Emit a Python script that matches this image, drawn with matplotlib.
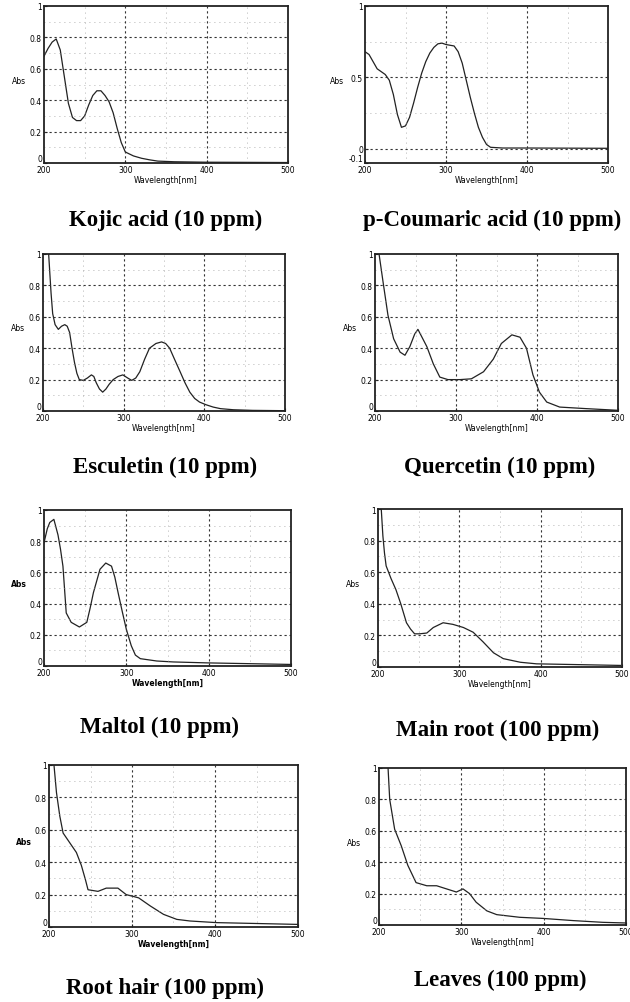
import matplotlib.pyplot as plt
import numpy as np

# spectra: wavelength (nm), absorbance
kojic_wl = [200, 205, 210, 215, 220, 225, 230, 235, 240, 245, 250, 255, 260, 265, 270, 275, 280,
            285, 290, 295, 300, 310, 320, 330, 340, 360, 400, 450, 500]
kojic_abs = [0.68, 0.73, 0.77, 0.79, 0.72, 0.55, 0.38, 0.29, 0.27, 0.27, 0.30, 0.37, 0.43, 0.46,
             0.46, 0.43, 0.39, 0.32, 0.22, 0.13, 0.07, 0.045, 0.03, 0.02, 0.012, 0.008, 0.005, 0.004, 0.003]

coumaric_wl = [200, 205, 210, 215, 220, 225, 230, 235, 240, 245, 250, 255, 260, 265, 270, 275, 280,
               285, 290, 295, 300, 305, 310, 315, 320, 325, 330, 335, 340, 345, 350, 355, 370, 400, 500]
coumaric_abs = [0.68, 0.66, 0.61, 0.56, 0.54, 0.52, 0.48, 0.38, 0.24, 0.15, 0.16, 0.22, 0.32, 0.43,
                0.53, 0.61, 0.67, 0.71, 0.735, 0.74, 0.73, 0.725, 0.72, 0.68, 0.60, 0.48, 0.36, 0.25,
                0.15, 0.08, 0.03, 0.01, 0.005, 0.005, 0.003]

esculetin_wl = [200, 204, 207, 210, 212, 215, 219, 223, 227, 230, 233, 236, 239, 242, 245, 250, 255,
                260, 263, 266, 270, 274, 278, 282, 287, 293, 299, 305, 310, 315, 320, 326, 332, 340,
                347, 352, 357, 363, 370, 376, 382, 388, 394, 402, 411, 420, 436, 460, 500]
esculetin_abs = [1.6, 1.3, 1.0, 0.75, 0.62, 0.55, 0.52, 0.54, 0.55, 0.54, 0.50, 0.40, 0.31, 0.24,
                 0.20, 0.195, 0.21, 0.23, 0.22, 0.18, 0.14, 0.12, 0.14, 0.17, 0.20, 0.22, 0.23, 0.21,
                 0.195, 0.21, 0.25, 0.33, 0.40, 0.43, 0.44, 0.43, 0.40, 0.33, 0.25, 0.18, 0.12, 0.08,
                 0.057, 0.04, 0.025, 0.015, 0.008, 0.004, 0.002]

quercetin_wl = [200, 205, 210, 216, 223, 231, 237, 243, 249, 253, 257, 264, 272, 280, 290, 305, 319,
                334, 346, 356, 369, 379, 387, 395, 403, 412, 428, 461, 498]
quercetin_abs = [1.3, 1.0, 0.82, 0.61, 0.46, 0.375, 0.355, 0.41, 0.49, 0.52, 0.48, 0.41, 0.30, 0.216,
                 0.20, 0.20, 0.205, 0.25, 0.33, 0.43, 0.485, 0.47, 0.40, 0.23, 0.12, 0.057, 0.025,
                 0.015, 0.005]

maltol_wl = [200, 204, 207, 212, 217, 220, 223, 227, 233, 243, 252, 256, 260, 268, 275, 282, 286,
             290, 295, 300, 306, 311, 317, 337, 357, 398, 500]
maltol_abs = [0.79, 0.88, 0.92, 0.94, 0.84, 0.75, 0.64, 0.34, 0.28, 0.25, 0.28, 0.37, 0.47, 0.62,
              0.66, 0.64, 0.57, 0.47, 0.35, 0.235, 0.13, 0.07, 0.047, 0.032, 0.026, 0.02, 0.01]

mainroot_wl = [200, 204, 206, 208, 210, 216, 222, 228, 235, 240, 245, 251, 260, 268, 280, 292, 305,
               317, 329, 342, 354, 375, 395, 498]
mainroot_abs = [1.3, 1.0, 0.83, 0.72, 0.64, 0.56, 0.49, 0.40, 0.28, 0.24, 0.21, 0.21, 0.215, 0.25,
                0.28, 0.27, 0.25, 0.22, 0.16, 0.09, 0.053, 0.03, 0.02, 0.01]

roothair_wl = [200, 206, 209, 213, 217, 225, 233, 239, 244, 247, 259, 269, 283, 293, 308, 322, 338,
               354, 370, 402, 500]
roothair_abs = [1.4, 1.0, 0.83, 0.685, 0.58, 0.52, 0.46, 0.38, 0.29, 0.23, 0.22, 0.24, 0.24, 0.20,
                0.18, 0.13, 0.078, 0.047, 0.037, 0.027, 0.016]

leaves_wl = [200, 211, 213, 219, 227, 235, 245, 258, 270, 282, 294, 302, 310, 318, 331, 343, 371,
             399, 436, 472, 499]
leaves_abs = [1.6, 1.0, 0.80, 0.61, 0.505, 0.38, 0.27, 0.25, 0.25, 0.23, 0.21, 0.23, 0.20, 0.145,
              0.09, 0.066, 0.049, 0.042, 0.028, 0.017, 0.013]

titles = ["Kojic acid (10 ppm)", "p-Coumaric acid (10 ppm)", "Esculetin (10 ppm)", "Quercetin (10 ppm)",
          "Maltol (10 ppm)", "Main root (100 ppm)", "Root hair (100 ppm)", "Leaves (100 ppm)"]
spectra = [(kojic_wl, kojic_abs), (coumaric_wl, coumaric_abs), (esculetin_wl, esculetin_abs),
           (quercetin_wl, quercetin_abs), (maltol_wl, maltol_abs), (mainroot_wl, mainroot_abs),
           (roothair_wl, roothair_abs), (leaves_wl, leaves_abs)]

W, H = 630, 1003
# axes boxes in pixels: left, top, right, bottom ; title centre x, y
boxes = [(44, 7, 288, 164), (365, 7, 608, 164), (43, 255, 285, 412), (375, 255, 618, 412),
         (44, 511, 291, 667), (378, 510, 622, 668), (49, 766, 298, 928), (379, 769, 626, 926)]
title_pos = [(166, 220), (492, 220), (165, 467), (500, 467), (160, 727), (498, 730), (165, 988), (500, 980)]

fig = plt.figure(figsize=(W / 100, H / 100), dpi=100)

for i, ((wl, ab), title) in enumerate(zip(spectra, titles)):
    l, t, r, b = boxes[i]
    ax = fig.add_axes([l / W, 1 - b / H, (r - l) / W, (b - t) / H])
    ax.plot(wl, ab, color="#222222", lw=0.9)
    ax.set_xlim(200, 500)
    if i == 1:
        ax.set_ylim(-0.1, 1)
        ax.set_yticks([-0.1, 0, 0.5, 1])
        ax.set_yticklabels(["-0.1", "0", "0.5", "1"])
        major_y, minor_y = [0, 0.5], [0.25, 0.75]
    else:
        ax.set_ylim(0, 1)
        ax.set_yticks([0, 0.2, 0.4, 0.6, 0.8, 1])
        ax.set_yticklabels(["0", "0.2", "0.4", "0.6", "0.8", "1"])
        major_y, minor_y = [0.2, 0.4, 0.6, 0.8], [0.1, 0.3, 0.5, 0.7, 0.9]
    ax.get_yticklabels()[0].set_va("bottom")
    ax.set_xticks([200, 300, 400, 500])
    for y in major_y:
        ax.axhline(y, color="#333333", lw=0.8, ls=(0, (2, 2.5)))
    for y in minor_y:
        ax.axhline(y, color="#999999", lw=0.6, ls=(0, (1, 5)))
    for x in [300, 400]:
        ax.axvline(x, color="#333333", lw=0.8, ls=(0, (2, 2.5)))
    for x in [250, 350, 450]:
        ax.axvline(x, color="#999999", lw=0.6, ls=(0, (1, 5)))
    ax.tick_params(labelsize=5.5, length=2, width=0.8, direction="in", pad=1.5)
    for s in ax.spines.values():
        s.set_linewidth(1.3)
        s.set_color("#222222")
    bold = i in (4, 6)
    ax.set_xlabel("Wavelength[nm]", fontsize=5.5, labelpad=1,
                  fontweight="bold" if bold else "normal")
    ax.set_ylabel("Abs", fontsize=5.5, rotation=0, labelpad=8,
                  fontweight="bold" if bold else "normal")
    tx, ty = title_pos[i]
    fig.text(tx / W, 1 - ty / H, title, ha="center", va="center", fontsize=16.5,
             fontweight="bold", family="Liberation Serif")

fig.savefig("out.png", dpi=100)
